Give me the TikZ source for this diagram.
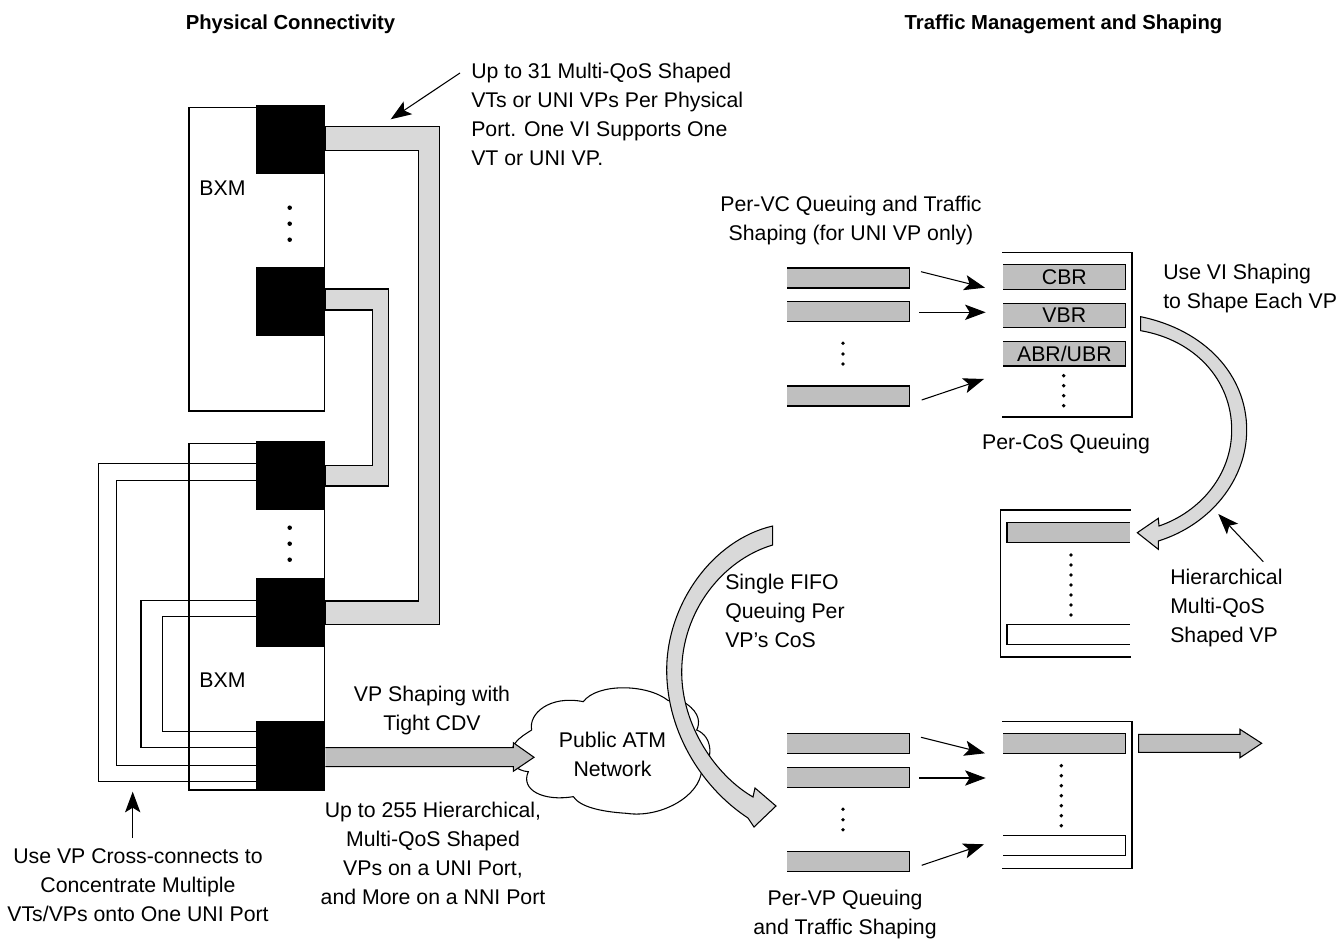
\documentclass[tikz,border=0pt]{standalone}
\usepackage{fontspec}
\setmainfont{Liberation Sans}
\usetikzlibrary{arrows.meta}
\definecolor{bargray}{HTML}{BFBFBF}
\definecolor{lightgray2}{HTML}{D9D9D9}
\tikzset{
  x=0.75pt,y=-0.75pt,
  line/.style={draw=black,line width=0.8pt,line join=miter},
  port/.style={fill=black,draw=none,inner sep=0pt,minimum width=51.75pt,minimum height=51.75pt},
  lab/.style={inner sep=0pt,font=\fontsize{15.95}{21.75}\selectfont,align=center},
  labl/.style={lab,align=left,anchor=west},
  head/.style={inner sep=0pt,font=\fontsize{15.2}{18}\selectfont\bfseries},
  arr/.style={line,-{Stealth[length=15.5pt,width=11.5pt,inset=3.5pt]}},
  fat/.style={line,fill=lightgray2},
  dot/.style={circle,fill=black,inner sep=0pt,minimum size=2.9pt},
}
\newcommand{\obarL}[7]{%
  \fill[#6] (#2,#3) rectangle (#4,#5);
  \node[lab,minimum width=0pt] (#1) at ({(#2+#4)/2},{(#3+#5)/2}) {#7};
  \draw[line] (#2,#3) -- (#4,#3) -- (#4,#5) -- (#2,#5);}
\newcommand{\obarR}[6]{%
  \fill[#6] (#2,#3) rectangle (#4,#5);
  \coordinate (#1) at ({(#2+#4)/2},{(#3+#5)/2});
  \draw[line] (#4,#3) -- (#2,#3) -- (#2,#5) -- (#4,#5);}
\begin{document}
\begin{tikzpicture}
\useasboundingbox (0,0) rectangle (1343,944);
% ---- BXM chassis
\draw[line] (189,107.3) rectangle (324.3,411);
\draw[line] (189,443.7) rectangle (324.3,790);
% ---- ports and thick trunks
\node[port] (p1) at (290.5,139.2) {};
\node[port] (p2) at (290.5,302) {};
\node[port] (p3) at (290.5,475.2) {};
\node[port] (p4) at (290.5,612.7) {};
\node[port] (p5) at (290.5,755.5) {};
\draw[fat] (p1.east |- 0,126.7) -- (439.7,126.7) -- (439.7,624.3) -- (p4.east |- 0,624.3) -- (p4.east |- 0,601) -- (418.7,601) -- (418.7,150.7) -- (p1.east |- 0,150.7) -- cycle;
\draw[fat] (p2.east |- 0,289) -- (388.3,289) -- (388.3,486) -- (p3.east |- 0,486) -- (p3.east |- 0,465.3) -- (372.3,465.3) -- (372.3,310) -- (p2.east |- 0,310) -- cycle;
% ---- cross-connect lines
\draw[line] (p3.west |- 0,463.3) -- (98.3,463.3) -- (98.3,781.7) -- (p5.west |- 0,781.7);
\draw[line] (p3.west |- 0,480.7) -- (116.7,480.7) -- (116.7,765.7) -- (p5.west |- 0,765.7);
\draw[line] (p4.west |- 0,600.7) -- (141,600.7) -- (141,747.3) -- (p5.west |- 0,747.3);
\draw[line] (p4.west |- 0,616.7) -- (162.3,616.7) -- (162.3,731.3) -- (p5.west |- 0,731.3);
% ports on top
\node[port] at (p1) {};
\node[port] at (p2) {};
\node[port] at (p3) {};
\node[port] at (p4) {};
\node[port] at (p5) {};
% dots
\foreach \y in {207.7,223.7,239.7,527.7,543.7,559.7} \node[dot,minimum size=3.4pt] at (289.7,\y) {};
\node[lab] (bxm1) at (222.5,188.5) {BXM};
\node[lab] (bxm2) at (222.5,680.5) {BXM};
% ---- cloud
\begin{scope}[shift={(500,510)},x=0.25pt,y=-0.25pt]
\draw[line,fill=white] (45,700) .. controls (60,680) and (80,670) .. (95,660)
 .. controls (85,610) and (150,555) .. (250,575)
 .. controls (290,520) and (440,520) .. (505,572)
 .. controls (530,570) and (560,578) .. (560,582)
 .. controls (600,610) and (600,640) .. (590,660)
 .. controls (640,680) and (640,750) .. (605,780)
 .. controls (600,860) and (480,925) .. (380,910)
 .. controls (300,905) and (240,890) .. (220,860)
 .. controls (130,875) and (60,840) .. (85,785)
 .. controls (70,785) and (50,775) .. (45,770)
 .. controls (30,745) and (30,720) .. cycle;
\end{scope}
\node[lab] (cloud) at (612.5,754) {Public ATM\\Network};
% ---- VP arrow
\draw[line,fill=bargray] (p5.east |- 0,747.7) -- (513.3,747.7) -- (513.3,742.7) -- (534,757.3) -- (513.3,771.3) -- (513.3,766.7) -- (p5.east |- 0,766.7);
\node[lab] (vpshape) at (432,711) {VP Shaping with\\Tight CDV};
\node[lab] (up255) at (433,853.5) {Up to 255 Hierarchical,\\Multi-QoS Shaped\\VPs on a UNI Port,\\and More on a NNI Port};
\node[lab] (usevp) at (138,885) {Use VP Cross-connects to\\Concentrate Multiple\\VTs/VPs onto One UNI Port};
\coordinate (usevpT) at (132.7,838);
\coordinate (crossB) at (132.7,791.7);
\draw[arr] (usevpT) -- (crossB);
% ---- top note
\node[labl] (note) at (471,114.5) {Up to 31 Multi-QoS Shaped\\VTs or UNI VPs Per Physical\\Port. One VI Supports One\\VT or UNI VP.};
\coordinate (noteA) at (460,73);
\coordinate (trunkT) at (390.7,119.3);
\draw[arr] (noteA) -- (trunkT);
% ---- headings
\node[head] (h1) at (290.5,24) {Physical Connectivity};
\node[head] (h2) at (1063.5,24) {Traffic Management and Shaping};
% ---- top queues
\node[lab] (pervc) at (851,221) {Per-VC Queuing and Traffic\\Shaping (for UNI VP only)};
\obarL{q1}{787}{268}{909.7}{288}{bargray}{}
\obarL{q2}{787}{301.7}{909.7}{321.3}{bargray}{}
\obarL{q3}{787}{386}{909.7}{406}{bargray}{}
\foreach \y in {343.3,354,364} \node[dot] at (843,\y) {};
\coordinate (a1s) at (921,271.7); \coordinate (a1e) at (985,287.7);
\coordinate (a2s) at (919.3,312.3); \coordinate (a2e) at (985.7,312.3);
\coordinate (a3s) at (921.7,400); \coordinate (a3e) at (984,379);
\draw[arr] (a1s) -- (a1e);
\draw[arr] (a2s) -- (a2e);
\draw[arr] (a3s) -- (a3e);
\draw[line] (1002,252.7) -- (1132,252.7) -- (1132,417) -- (1002,417);
\obarL{cbr}{1003}{264.7}{1125.7}{289.3}{bargray}{CBR}
\obarL{vbr}{1003}{303.3}{1125.7}{327.7}{bargray}{VBR}
\obarL{abr}{1003}{341.7}{1125.7}{366}{bargray}{ABR/UBR}
\foreach \y in {375.7,385.7,395.7,405.7} \node[dot] at (1063.7,\y) {};
\node[lab] (percos) at (1066,444) {Per-CoS Queuing};
\node[labl] (usevi) at (1163,288.5) {Use VI Shaping\\to Shape Each VP};
% ---- right curved arrow
\draw[fat] (1140.7,316.7) .. controls (1205,330) and (1246.7,375) .. (1246.7,430)
 .. controls (1246.7,480) and (1210,525) .. (1158.3,541)
 -- (1158.3,549.3) -- (1137.3,532.7) -- (1158.3,518.3) -- (1159,526)
 .. controls (1200,512) and (1231.7,475) .. (1231.7,430)
 .. controls (1231.7,380) and (1195,340) .. (1140.7,330.7) -- cycle;
% ---- hierarchical queue
\draw[line] (1130.7,510) -- (1000.3,510) -- (1000.3,657) -- (1130.7,657);
\obarR{h1bar}{1007}{522.3}{1129.7}{542.3}{bargray}
\obarR{h2bar}{1007}{624.3}{1129.7}{644.3}{white}
\foreach \y in {555,565,575,585,595,605,615} \node[dot] at (1071,\y) {};
\node[labl] (hier) at (1170,608) {Hierarchical\\Multi-QoS\\Shaped VP};
\coordinate (hierA) at (1263.3,561.7);
\coordinate (hierB) at (1218.3,514);
\draw[arr] (hierA) -- (hierB);
% ---- left curved arrow
\draw[fat] (772.7,526) .. controls (712,540) and (666.7,605) .. (666.7,670)
 .. controls (666.7,735) and (705,790) .. (748,818)
 -- (754,827) -- (776,806) -- (755,788) -- (753,797)
 .. controls (715,775) and (681.7,725) .. (681.7,672)
 .. controls (681.7,612) and (722,560) .. (772.7,545) -- cycle;
\node[labl] (fifo) at (725,611) {Single FIFO\\Queuing Per\\VP’s CoS};
% ---- bottom queues
\obarL{r1}{787}{733.3}{909.7}{753.3}{bargray}{}
\obarL{r2}{787}{767.3}{909.7}{787.3}{bargray}{}
\obarL{r3}{787}{851.7}{909.7}{871.7}{bargray}{}
\foreach \y in {809.3,819.7,829.7} \node[dot] at (843,\y) {};
\coordinate (b1s) at (921,737.3); \coordinate (b1e) at (985,753.3);
\coordinate (b2s) at (919.3,778); \coordinate (b2e) at (985.7,778);
\coordinate (b3s) at (921.7,865.3); \coordinate (b3e) at (984,844.3);
\draw[arr] (b1s) -- (b1e);
\draw[arr] (b2s) -- (b2e);
\draw[arr] (b3s) -- (b3e);
\draw[line] (1002,721.3) -- (1132,721.3) -- (1132,868.3) -- (1002,868.3);
\obarL{s1}{1003}{733.3}{1125.7}{753.3}{bargray}{}
\obarL{s2}{1003}{835.7}{1125.7}{855.7}{white}{}
\foreach \y in {765.7,775.7,785.7,795.7,805.7,815.7,825.7} \node[dot] at (1061.3,\y) {};
\draw[line,fill=bargray] (1138.7,734.3) -- (1240,734.3) -- (1240,729.3) -- (1261.7,743.3) -- (1240,757.7) -- (1240,752.3) -- (1138.7,752.3) -- cycle;
\node[lab] (pervp) at (845,914.5) {Per-VP Queuing\\and Traffic Shaping};
\end{tikzpicture}
\end{document}
